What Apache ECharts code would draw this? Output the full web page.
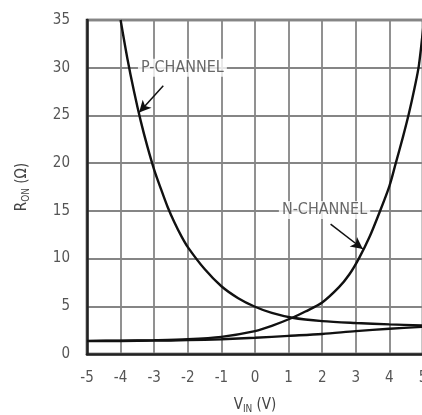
<!DOCTYPE html>
<html>
<head>
<meta charset="utf-8">
<script src="https://cdn.jsdelivr.net/npm/echarts@6/dist/echarts.min.js"></script>
<style>
  html, body { margin: 0; padding: 0; background: #fff; }
  #main { width: 422px; height: 415px; }
</style>
</head>
<body>
<div id="main"></div>
<script>
// P-channel on-resistance vs VIN
var pChannel = [
  [-4.0, 35], [-3.8, 31], [-3.6, 27.5], [-3.4, 24.4], [-3.2, 21.7], [-3.0, 19.3],
  [-2.8, 17.3], [-2.6, 15.4], [-2.4, 13.8], [-2.2, 12.4], [-2.0, 11.2], [-1.5, 8.9],
  [-1.0, 7.1], [-0.5, 5.85], [0.0, 4.95], [0.5, 4.3], [1.11, 3.8], [2, 3.45],
  [3, 3.25], [4, 3.1], [5, 3.0]
];
// N-channel on-resistance vs VIN
var nChannel = [
  [-5, 1.38], [-4, 1.4], [-3, 1.45], [-2, 1.55], [-1, 1.8], [0, 2.4], [0.5, 2.95],
  [1.11, 3.8], [1.5, 4.45], [2, 5.4], [2.5, 7.0], [2.8, 8.3], [3.09, 10], [3.4, 12.2],
  [3.69, 14.7], [4.0, 17.6], [4.19, 20], [4.4, 22.7], [4.58, 25.2], [4.75, 27.9],
  [4.88, 30.3], [5.03, 35]
];
// combined (parallel) curve
var combined = [
  [-5, 1.35], [-4, 1.37], [-3, 1.4], [-2, 1.45], [-1, 1.55], [0, 1.7],
  [1, 1.9], [2, 2.1], [3, 2.4], [4, 2.65], [5, 2.85]
];
// annotation labels and their arrows (data coords)
var labels = [
  { name: "P-CHANNEL", value: [-2.16, 30] },
  { name: "N-CHANNEL", value: [2.07, 15.1] }
];
var arrows = [
  [[-2.73, 28.1], [-3.45, 25.3]],
  [[2.25, 13.6], [3.21, 11.0]]
];

var font = "'Liberation Sans Narrow', 'DejaVu Sans Condensed', sans-serif";
var myChart = echarts.init(document.getElementById("main"));

var curveStyle = { color: "#111", width: 2.4 };

var option = {
  animation: false,
  grid: {
    left: 87, top: 20, right: -1, bottom: 61,
    outerBoundsMode: "none",
    show: true, borderColor: "#222", borderWidth: 2.5, backgroundColor: "#fff"
  },
  xAxis: {
    type: "value", min: -5, max: 5, interval: 1,
    name: "{a|V}{b|IN}{a| (V)}",
    nameLocation: "middle", nameGap: 42,
    nameTextStyle: {
      rich: {
        a: { fontFamily: font, fontSize: 15, color: "#444" },
        b: { fontFamily: font, fontSize: 10, color: "#444", padding: [8, 0, 0, 0] }
      }
    },
    axisLine: { show: true, onZero: false, lineStyle: { color: "#222", width: 2.5 } },
    axisTick: { show: false },
    axisLabel: { fontFamily: font, fontSize: 15, color: "#555", margin: 17 },
    splitLine: { show: true, lineStyle: { color: "#858585", width: 1.8 } }
  },
  yAxis: {
    type: "value", min: 0, max: 35, interval: 5,
    name: "{a|R}{b|ON}{a| (Ω)}",
    nameLocation: "middle", nameGap: 56, nameRotate: 90,
    nameTextStyle: {
      rich: {
        a: { fontFamily: font, fontSize: 15, color: "#444" },
        b: { fontFamily: font, fontSize: 10, color: "#444", padding: [8, 0, 0, 0] }
      }
    },
    axisLine: { show: true, onZero: false, lineStyle: { color: "#222", width: 2.5 } },
    axisTick: { show: false },
    axisLabel: { fontFamily: font, fontSize: 15, color: "#555", margin: 17 },
    splitLine: { show: true, lineStyle: { color: "#858585", width: 1.8 } }
  },
  series: [
    {
      name: "P-CHANNEL", type: "line", smooth: 0.3, showSymbol: false,
      data: pChannel, lineStyle: curveStyle, z: 3
    },
    {
      name: "N-CHANNEL", type: "line", smooth: 0.3, showSymbol: false,
      data: nChannel, lineStyle: curveStyle, z: 3
    },
    {
      name: "COMBINED", type: "line", smooth: 0.3, showSymbol: false,
      data: combined, lineStyle: curveStyle, z: 3,
      markLine: {
        silent: true,
        symbol: ["none", "arrow"],
        symbolSize: [9, 12],
        label: { show: false },
        lineStyle: { color: "#111", width: 1.5, type: "solid" },
        data: arrows.map(function (a) {
          return [{ coord: a[0] }, { coord: a[1] }];
        })
      }
    },
    {
      name: "labels", type: "scatter", symbolSize: 0, z: 4,
      data: labels,
      label: {
        show: true, position: "inside",
        formatter: function (p) { return p.name; },
        fontFamily: font, fontSize: 16, color: "#444",
        backgroundColor: "#fff", padding: [1, 3]
      }
    }
  ]
};

option && myChart.setOption(option);
</script>
</body>
</html>
